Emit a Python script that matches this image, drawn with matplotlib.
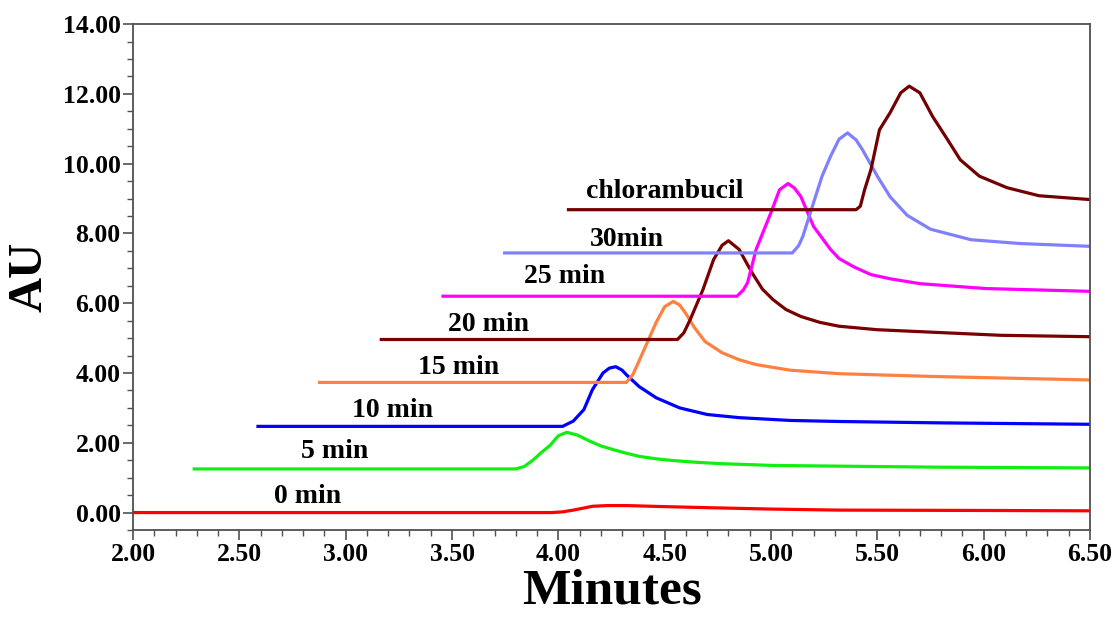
import matplotlib
matplotlib.use("Agg")
import matplotlib.pyplot as plt
from matplotlib.ticker import MultipleLocator, FormatStrFormatter

plt.rcParams['font.family'] = ['Liberation Serif', 'DejaVu Serif']
plt.rcParams['font.weight'] = 'bold'

# chromatogram traces (minutes, AU), each run offset upward
t_0 = [2.00, 3.97, 4.02, 4.07, 4.12, 4.16, 4.23, 4.32, 4.50, 4.70, 5.00,
       5.32, 6.00, 6.50]
au_0 = [0.00, 0.00, 0.02, 0.07, 0.13, 0.18, 0.20, 0.20, 0.17, 0.14, 0.10,
        0.07, 0.06, 0.05]

t_5 = [2.28, 3.80, 3.84, 3.88, 3.92, 3.96, 4.00, 4.04, 4.09, 4.15, 4.20,
       4.26, 4.32, 4.38, 4.46, 4.54, 4.65, 4.77, 5.01, 5.32, 5.80, 6.50]
au_5 = [1.25, 1.25, 1.32, 1.50, 1.72, 1.92, 2.20, 2.30, 2.22, 2.04, 1.91,
        1.80, 1.70, 1.61, 1.54, 1.49, 1.44, 1.40, 1.35, 1.33, 1.30, 1.28]

t_10 = [2.58, 4.02, 4.07, 4.12, 4.16, 4.21, 4.24, 4.27, 4.30, 4.32, 4.38,
        4.46, 4.57, 4.70, 4.85, 5.09, 5.32, 5.80, 6.50]
au_10 = [2.47, 2.47, 2.62, 2.95, 3.52, 4.00, 4.14, 4.18, 4.08, 3.95, 3.61,
         3.29, 3.00, 2.81, 2.72, 2.64, 2.61, 2.57, 2.53]

t_15 = [2.87, 4.32, 4.35, 4.38, 4.42, 4.46, 4.50, 4.54, 4.57, 4.60, 4.64,
        4.69, 4.77, 4.85, 4.93, 5.09, 5.32, 5.76, 6.50]
au_15 = [3.73, 3.73, 3.95, 4.35, 4.90, 5.45, 5.90, 6.05, 5.95, 5.70, 5.30,
         4.90, 4.58, 4.38, 4.24, 4.08, 3.98, 3.90, 3.80]

t_20 = [3.16, 4.56, 4.59, 4.62, 4.68, 4.73, 4.77, 4.80, 4.85, 4.91, 4.96,
        5.01, 5.07, 5.14, 5.23, 5.32, 5.50, 5.79, 6.08, 6.50]
au_20 = [4.96, 4.96, 5.15, 5.53, 6.39, 7.25, 7.66, 7.79, 7.54, 6.88, 6.40,
         6.10, 5.82, 5.62, 5.45, 5.34, 5.24, 5.16, 5.08, 5.04]

t_25 = [3.45, 4.84, 4.87, 4.89, 4.93, 5.00, 5.04, 5.08, 5.11, 5.14, 5.20,
        5.28, 5.32, 5.39, 5.47, 5.56, 5.70, 6.01, 6.50]
au_25 = [6.20, 6.20, 6.38, 6.59, 7.54, 8.60, 9.25, 9.43, 9.30, 9.06, 8.20,
         7.54, 7.28, 7.04, 6.82, 6.70, 6.56, 6.42, 6.34]

t_30 = [3.74, 5.10, 5.13, 5.15, 5.20, 5.24, 5.28, 5.32, 5.36, 5.40, 5.43,
        5.50, 5.56, 5.64, 5.75, 5.94, 6.17, 6.50]
au_30 = [7.44, 7.44, 7.65, 7.92, 8.88, 9.64, 10.21, 10.70, 10.88, 10.68, 10.40,
         9.64, 9.05, 8.52, 8.12, 7.82, 7.71, 7.63]

t_chl = [4.04, 5.40, 5.42, 5.44, 5.47, 5.51, 5.56, 5.61, 5.65, 5.70, 5.76,
         5.83, 5.89, 5.98, 6.11, 6.26, 6.50]
au_chl = [8.68, 8.68, 8.78, 9.25, 9.83, 10.97, 11.46, 12.03, 12.22, 12.03, 11.35,
          10.69, 10.11, 9.64, 9.31, 9.08, 8.97]

traces = [
    (t_0, au_0, '#ff0000', '0 min', 2.82, 0.46),
    (t_5, au_5, '#11ee11', '5 min', 2.95, 1.75),
    (t_10, au_10, '#0000ff', '10 min', 3.22, 2.92),
    (t_15, au_15, '#ff8040', '15 min', 3.53, 4.15),
    (t_20, au_20, '#7a0000', '20 min', 3.67, 5.39),
    (t_25, au_25, '#ff00ff', '25 min', 4.03, 6.76),
    (t_30, au_30, '#8080ff', '30min', 4.32, 7.82),
    (t_chl, au_chl, '#720000', 'chlorambucil', 4.50, 9.20),
]

fig = plt.figure(figsize=(11.16, 6.17), dpi=100)
ax = fig.add_axes([0.1192, 0.141, 0.8575, 0.820])

for t, au, col, name, lx, ly in traces:
    ax.plot(t, au, color=col, lw=2.3, solid_joinstyle='round', solid_capstyle='butt')
    ax.text(lx, ly, name, ha='center', va='center', fontsize=20, fontweight='bold')

ax.set_xlim(2.0, 6.5)
ax.set_ylim(-0.5, 14.0)
ax.xaxis.set_major_locator(MultipleLocator(0.5))
ax.xaxis.set_minor_locator(MultipleLocator(0.1))
ax.yaxis.set_major_locator(MultipleLocator(2.0))
ax.yaxis.set_minor_locator(MultipleLocator(0.5))
ax.xaxis.set_major_formatter(FormatStrFormatter('%.2f'))
ax.yaxis.set_major_formatter(FormatStrFormatter('%.2f'))

for s in ax.spines.values():
    s.set_color('#505050')
    s.set_linewidth(1.3)
ax.tick_params(which='major', direction='out', length=7, width=1.2, color='#505050',
               labelsize=18.5, pad=2)
ax.tick_params(which='minor', direction='out', length=4, width=1.0, color='#505050')
for lab in ax.get_xticklabels() + ax.get_yticklabels():
    lab.set_fontweight('bold')

ax.set_xlabel('Minutes', fontsize=37, fontweight='bold', labelpad=2)
ax.set_ylabel('AU', fontsize=35, fontweight='bold', labelpad=8)

fig.savefig('out.png', dpi=100)
